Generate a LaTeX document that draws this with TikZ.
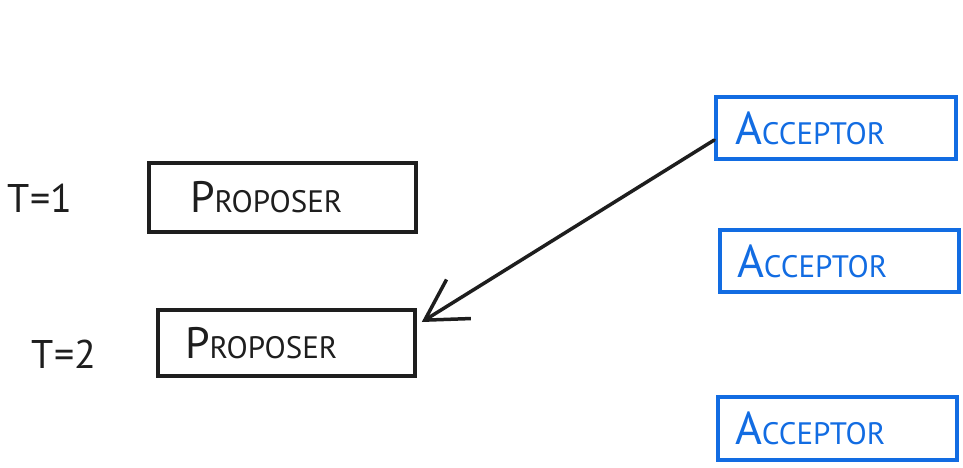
\documentclass[tikz,border=0pt]{standalone}
\usepackage{fontspec}
\setmainfont{PT Sans}
\usetikzlibrary{arrows.meta}
\definecolor{accblue}{RGB}{18,108,226}
\definecolor{ink}{RGB}{30,30,30}
\tikzset{
  box/.style={draw, line width=3.5pt, rectangle, align=left, inner ysep=0pt, anchor=center},
  propbox/.style={box, draw=ink, text=ink},
  accbox/.style={box, draw=accblue, text=accblue},
  tlabel/.style={text=ink, font=\fontsize{40}{42}\selectfont},
  small/.style={font=\fontsize{31}{33}\selectfont}
}
\newcommand{\bigP}{{\fontsize{44}{46}\selectfont P}}
\newcommand{\bigA}{{\fontsize{46}{48}\selectfont A}}
\begin{document}
\begin{tikzpicture}[x=1pt,y=-1pt]
\useasboundingbox (0,0) rectangle (963,467);
\node[propbox, small, minimum width=267pt, minimum height=69pt, inner xsep=41pt, text width=185pt] (p1) at (282.5,197.5) {\bigP ROPOSER};
\node[propbox, small, minimum width=257pt, minimum height=66pt, inner xsep=27pt, text width=203pt] (p2) at (286.5,343) {\bigP ROPOSER};
\node[accbox, small, minimum width=240pt, minimum height=62pt, inner xsep=19pt, text width=202pt] (a1) at (836,128) {\bigA CCEPTOR};
\node[accbox, small, minimum width=239pt, minimum height=62pt, inner xsep=17pt, text width=205pt] (a2) at (839.5,261) {\bigA CCEPTOR};
\node[accbox, small, minimum width=239pt, minimum height=63pt, inner xsep=17pt, text width=205pt] (a3) at (837.5,428.5) {\bigA CCEPTOR};
\node[tlabel] (t1) at (40,198) {T=1};
\node[tlabel] (t2) at (64,354) {T=2};
\draw[ink, line width=3.5pt, line cap=round, -{Straight Barb[length=40pt,width=46pt,line width=3.5pt]}]
  ([yshift=-12pt]a1.west) -- ([xshift=5pt,yshift=21pt]p2.east);
\end{tikzpicture}
\end{document}
